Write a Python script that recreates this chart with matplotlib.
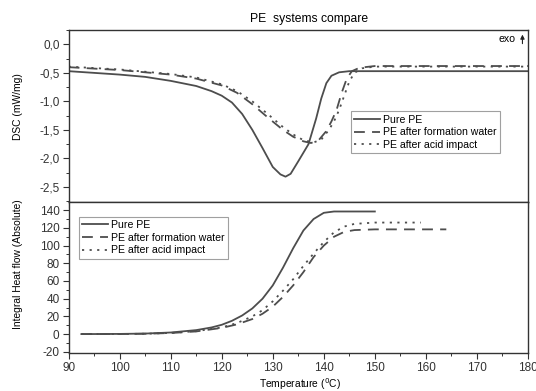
import matplotlib
matplotlib.use('Agg')

import matplotlib.pyplot as plt
import matplotlib.ticker as ticker

plt.rcParams['font.family'] = ['Liberation Sans', 'DejaVu Sans']
plt.rcParams['axes.unicode_minus'] = False

# DSC curves (top panel)
t_pure = [90, 100, 105, 110, 115, 118, 120, 122, 124, 126, 128, 130, 131.5, 132.5,
          133.5, 135, 137, 138.5, 139.5, 140.5, 141.5, 143, 145, 180]
dsc_pure = [-0.47, -0.53, -0.57, -0.64, -0.73, -0.82, -0.90, -1.02, -1.22, -1.50, -1.82, -2.15, -2.28, -2.32,
            -2.27, -2.05, -1.75, -1.30, -0.95, -0.68, -0.55, -0.49, -0.47, -0.47]

t_water = [90, 100, 110, 115, 120, 123, 126, 129, 132, 134, 136, 137.5, 139, 140.5,
           141.5, 142.5, 143.5, 144.5, 145.5, 147, 150, 180]
dsc_water = [-0.40, -0.45, -0.53, -0.60, -0.72, -0.85, -1.05, -1.28, -1.50, -1.62, -1.70, -1.73, -1.68, -1.52,
             -1.35, -1.15, -0.85, -0.60, -0.47, -0.41, -0.38, -0.38]

t_acid = [90, 100, 110, 115, 120, 123, 126, 129, 132, 134, 136, 138, 139.5, 141,
          142, 143, 144, 145, 146, 147.5, 150, 180]
dsc_acid = [-0.39, -0.44, -0.52, -0.58, -0.70, -0.82, -1.00, -1.22, -1.45, -1.58, -1.68, -1.72, -1.67, -1.50,
            -1.35, -1.15, -0.90, -0.65, -0.50, -0.42, -0.39, -0.39]

# integral heat flow (bottom panel)
ti_pure = [92.5, 100, 105, 110, 115, 118, 120, 122, 124, 126, 128, 130, 132, 134,
           136, 138, 140, 142, 150]
int_pure = [0, 0.2, 0.6, 1.8, 4.5, 7.5, 10.5, 15, 21, 29, 40, 55, 75, 97,
            117, 130, 137, 138.5, 138.5]

ti_water = [92.5, 100, 105, 110, 115, 120, 123, 126, 128, 130, 132, 134, 136, 138,
            140, 142, 144, 146, 150, 164]
int_water = [0, 0.1, 0.4, 1.2, 3.0, 7, 11, 17, 23, 31, 42, 55, 70, 87,
             100, 110, 115.5, 117.5, 118.3, 118.3]

ti_acid = [92.5, 100, 105, 110, 115, 120, 123, 126, 128, 130, 132, 134, 136, 138,
           140, 142, 144, 146, 150, 159]
int_acid = [0, 0.1, 0.4, 1.3, 3.3, 7.5, 12.5, 20, 27, 37, 49, 62, 77, 91,
            104, 115, 121.5, 124.5, 126, 126]

labels = ['Pure PE', 'PE after formation water', 'PE after acid impact']

col = '#4d4d4d'
fs = 8.5      # tick labels
lfs = 7.4     # axis labels
gfs = 7.6     # legend


def comma(x, pos):
    return '{:.1f}'.format(x).replace('.', ',')


fig = plt.figure(figsize=(5.36, 3.91), dpi=100)
ax1 = fig.add_axes([0.128, 0.484, 0.857, 0.439])
ax2 = fig.add_axes([0.128, 0.098, 0.857, 0.386])

ax1.plot(t_pure, dsc_pure, color=col, lw=1.3, label=labels[0])
ax1.plot(t_water, dsc_water, color=col, lw=1.3, dashes=(6, 4), label=labels[1])
ax1.plot(t_acid, dsc_acid, color=col, lw=1.3, dashes=(1.2, 3), label=labels[2])

ax2.plot(ti_pure, int_pure, color=col, lw=1.3, label=labels[0])
ax2.plot(ti_water, int_water, color=col, lw=1.3, dashes=(6, 4), label=labels[1])
ax2.plot(ti_acid, int_acid, color=col, lw=1.3, dashes=(1.2, 3), label=labels[2])

for ax in (ax1, ax2):
    ax.set_xlim(90, 180)
    ax.xaxis.set_major_locator(ticker.MultipleLocator(10))
    ax.xaxis.set_minor_locator(ticker.MultipleLocator(5))
    ax.tick_params(which='major', direction='out', length=4, width=0.8, labelsize=fs,
                   colors='#333333', pad=2.5)
    ax.tick_params(which='minor', direction='out', length=2, width=0.7, colors='#333333')
    for s in ax.spines.values():
        s.set_linewidth(1.0)
        s.set_color('#333333')

ax1.set_ylim(-2.76, 0.25)
ax1.yaxis.set_major_locator(ticker.MultipleLocator(0.5))
ax1.yaxis.set_minor_locator(ticker.MultipleLocator(0.25))
ax1.yaxis.set_major_formatter(ticker.FuncFormatter(comma))
ax1.tick_params(axis='x', labelbottom=False)
ax1.set_ylabel('DSC (mW/mg)', fontsize=lfs, va='center')
ax1.yaxis.set_label_coords(-0.110, 0.552)

ax2.set_ylim(-21, 149.5)
ax2.yaxis.set_major_locator(ticker.MultipleLocator(20))
ax2.yaxis.set_minor_locator(ticker.MultipleLocator(10))
ax2.set_ylabel('Integral Heat flow (Absolute)', fontsize=lfs, va='center')
ax2.yaxis.set_label_coords(-0.110, 0.587)
ax2.set_xlabel('Temperature ($^0$C)', fontsize=lfs, va='center')
ax2.xaxis.set_label_coords(0.503, -0.205)

leg_kw = dict(fontsize=gfs, frameon=True, fancybox=False, handlelength=2.4,
              borderpad=0.3, labelspacing=0.25, handletextpad=0.3, borderaxespad=0)
l1 = ax1.legend(loc='lower left', bbox_to_anchor=(0.615, 0.284), **leg_kw)
l2 = ax2.legend(loc='upper left', bbox_to_anchor=(0.023, 0.899), **leg_kw)
for lg in (l1, l2):
    lg.get_frame().set_edgecolor('#888888')
    lg.get_frame().set_linewidth(0.8)

# exo marker
ax1.text(0.972, 0.948, 'exo', transform=ax1.transAxes, fontsize=gfs, ha='right', va='center')
ax1.annotate('', xy=(0.988, 0.99), xytext=(0.988, 0.905), xycoords='axes fraction',
             arrowprops=dict(arrowstyle='-|>', color='#222222', lw=0.8, mutation_scale=6))

fig.text(0.577, 0.952, 'PE  systems compare', fontsize=8.7, ha='center', va='center')

fig.savefig('out.png', dpi=100)
